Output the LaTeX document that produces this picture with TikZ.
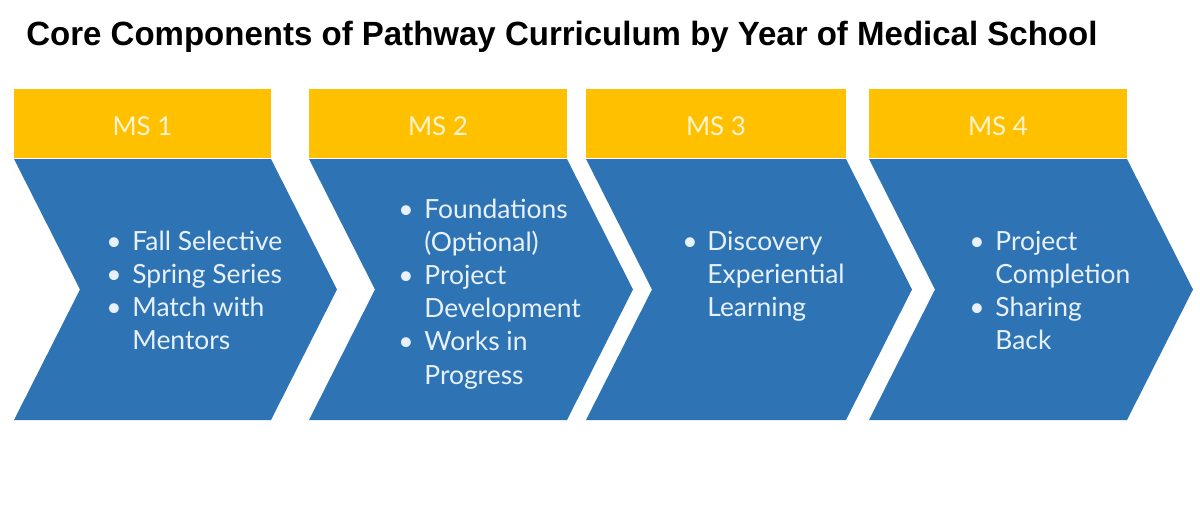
\documentclass[tikz,border=0pt]{standalone}
\usepackage{fontspec}
\setmainfont{Lato}
\newfontfamily\titlefont{Liberation Sans}
\definecolor{msgold}{HTML}{FFC000}
\definecolor{msblue}{HTML}{2E74B5}
\definecolor{bartext}{HTML}{FFF4D2}
\definecolor{listtext}{HTML}{E8F1FB}
\newcommand{\bul}{\textbullet}
\tikzset{
  yearbar/.style={fill=msgold},
  chevron/.style={fill=msblue},
  yearlabel/.style={anchor=base, inner sep=0, text=bartext, font=\fontsize{13}{15}\selectfont},
  itemlist/.style={anchor=base west, inner sep=0, text=listtext, font=\fontsize{13.2}{16.6}\selectfont}
}
\begin{document}
\begin{tikzpicture}[x=0.5pt, y=-0.5pt]
  \useasboundingbox (0,0) rectangle (1200,514);
  \node[anchor=base west, inner sep=0] (title) at (26,45)
    {\resizebox{535.5pt}{\height}{\titlefont\bfseries\fontsize{16.8}{20}\selectfont Core Components of Pathway Curriculum by Year of Medical School}};
  % year bars
  \fill[yearbar] (14,89) rectangle (271,158);
  \fill[yearbar] (309,89) rectangle (567,158);
  \fill[yearbar] (586,89) rectangle (846,158);
  \fill[yearbar] (869,89) rectangle (1127,158);
  \node[yearlabel] (ms1) at (142.5,135) {MS 1};
  \node[yearlabel] (ms2) at (438,135) {MS 2};
  \node[yearlabel] (ms3) at (716,135) {MS 3};
  \node[yearlabel] (ms4) at (998,135) {MS 4};
  % chevrons
  \fill[chevron] (14,159) -- (271,159) -- (337,289.5) -- (271,420) -- (14,420) -- (80,289.5) -- cycle;
  \fill[chevron] (309,159) -- (567,159) -- (633,289.5) -- (567,420) -- (309,420) -- (375,289.5) -- cycle;
  \fill[chevron] (586,159) -- (846,159) -- (912,289.5) -- (846,420) -- (586,420) -- (652,289.5) -- cycle;
  \fill[chevron] (869,159) -- (1127,159) -- (1193,289.5) -- (1127,420) -- (869,420) -- (935,289.5) -- cycle;
  % item lists
  \node[itemlist] (list1) at (106,250)
    {\begin{tabular}[t]{@{}p{13pt}@{}l@{}}
      \bul & Fall Selective\\ \bul & Spring Series\\ \bul & Match with\\ & Mentors
    \end{tabular}};
  \node[itemlist] (list2) at (398,218)
    {\begin{tabular}[t]{@{}p{13pt}@{}l@{}}
      \bul & Foundations\\ & (Optional)\\ \bul & Project\\ & Development\\ \bul & Works in\\ & Progress
    \end{tabular}};
  \node[itemlist] (list3) at (682,250)
    {\begin{tabular}[t]{@{}p{12.5pt}@{}l@{}}
      \bul & Discovery\\ & Experiential\\ & Learning
    \end{tabular}};
  \node[itemlist] (list4) at (969,250)
    {\begin{tabular}[t]{@{}p{13pt}@{}l@{}}
      \bul & Project\\ & Completion\\ \bul & Sharing\\ & Back
    \end{tabular}};
\end{tikzpicture}
\end{document}
